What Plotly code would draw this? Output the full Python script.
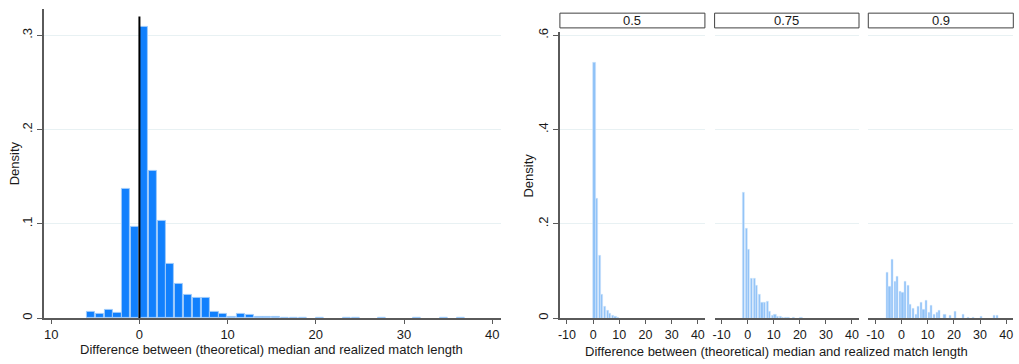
import plotly.graph_objects as go

W, H = 1019, 364

# ---------------- data ----------------
# Left histogram (all matches): left bin edge -> density
left_bins = [-6, -5, -4, -3, -2, -1, 0, 1, 2, 3, 4, 5, 6, 7, 8, 9, 10, 11, 12, 13, 14, 15,
             16, 17, 18, 20, 23, 24, 27, 31, 34, 36]
left_density = [0.007, 0.004, 0.009, 0.005, 0.137, 0.097, 0.309, 0.156, 0.103, 0.057, 0.036,
                0.025, 0.021, 0.021, 0.007, 0.0045, 0.0015, 0.004, 0.003, 0.001, 0.001, 0.0015,
                0.0006, 0.0005, 0.0005, 0.0005, 0.0003, 0.0003, 0.0003, 0.0003, 0.0003, 0.0003]
median_line_x = 0
median_line_top = 0.32

# Right panels by quantile
panel_labels = ["0.5", "0.75", "0.9"]

q50_bins = [0, 1, 2, 3, 4, 5, 6, 7, 8, 9]
q50_density = [0.543, 0.254, 0.133, 0.049, 0.024, 0.016, 0.010, 0.005, 0.003, 0.001]

q75_bins = [-2, -1, 0, 1, 2, 3, 4, 5, 6, 7, 8, 9, 10, 11, 12, 13, 14, 15, 17, 20]
q75_density = [0.266, 0.191, 0.146, 0.084, 0.083, 0.069, 0.049, 0.033, 0.032, 0.034, 0.013,
               0.005, 0.008, 0.003, 0.003, 0.002, 0.002, 0.001, 0.001, 0.001]

q90_bins = [-6, -5, -4, -3, -2, -1, 0, 1, 2, 3, 4, 5, 6, 7, 8, 9, 10, 11, 12, 13, 14,
            16, 18, 20, 23, 25, 27, 30, 35, 36]
q90_density = [0.097, 0.066, 0.124, 0.077, 0.089, 0.056, 0.055, 0.077, 0.068, 0.028, 0.021,
               0.007, 0.025, 0.032, 0.017, 0.037, 0.012, 0.026, 0.008, 0.012, 0.015,
               0.007, 0.006, 0.013, 0.008, 0.001, 0.001, 0.004, 0.005, 0.005]

left_xticks = [-10, 0, 10, 20, 30, 40]
left_xticktext = ["10", "0", "10", "20", "30", "40"]
right_xticks = [-10, 0, 10, 20, 30, 40]
right_xticktext = ["-10", "0", "10", "20", "30", "40"]
left_yticks = [0, 0.1, 0.2, 0.3]
left_yticktext = ["0", ".1", ".2", ".3"]
right_yticks = [0, 0.2, 0.4, 0.6]
right_yticktext = ["0", ".2", ".4", ".6"]

xtitle = "Difference between (theoretical) median and realized match length"
ytitle = "Density"

# ---------------- styling ----------------
FONT = "Liberation Sans, Arial, sans-serif"
TXT = "#1a1a1a"
AX = "#5a5a5a"
GRID = "#e8f1f3"
LEFT_FILL = "#1180fd"
LEFT_EDGE = "#9fcbfb"
RIGHT_FILL = "#8fc2f7"
RIGHT_EDGE = "#d3e7fc"


def px_x(p):
    return p / W


def px_y(p):
    return 1 - p / H


fig = go.Figure()

fig.add_trace(go.Bar(x=left_bins, y=left_density, width=0.92, offset=0.04,
                     marker=dict(color=LEFT_FILL, line=dict(color=LEFT_EDGE, width=1)),
                     xaxis="x", yaxis="y", showlegend=False))
fig.add_trace(go.Scatter(x=[median_line_x, median_line_x], y=[0, median_line_top], mode="lines",
                         line=dict(color="black", width=2), xaxis="x", yaxis="y",
                         showlegend=False))

panels = [(q50_bins, q50_density), (q75_bins, q75_density), (q90_bins, q90_density)]
for i, (b, d) in enumerate(panels):
    n = i + 2
    fig.add_trace(go.Bar(x=b, y=d, width=0.82, offset=0.09,
                         marker=dict(color=RIGHT_FILL, line=dict(color=RIGHT_EDGE, width=0.5)),
                         xaxis=f"x{n}", yaxis=f"y{n}", showlegend=False))

layout = dict(
    width=W, height=H,
    margin=dict(l=0, r=0, t=0, b=0),
    paper_bgcolor="white", plot_bgcolor="white",
    font=dict(family=FONT, color=TXT, size=13),
    bargap=0,
)

# left axes
layout["xaxis"] = dict(domain=[px_x(42), px_x(500)], range=[-10.83, 41.0], anchor="y",
                       tickvals=left_xticks, ticktext=left_xticktext, ticks="outside",
                       ticklen=4, tickcolor=AX, showline=True, linecolor=AX, linewidth=1.5,
                       showgrid=False, zeroline=False, tickfont=dict(size=13))
layout["yaxis"] = dict(domain=[px_y(319.3), px_y(5)], range=[0, 0.3281], anchor="x",
                       tickvals=left_yticks, ticktext=left_yticktext, ticks="outside",
                       ticklen=5, tickcolor=AX, showline=True, linecolor=AX, linewidth=1.5,
                       showgrid=True, gridcolor=GRID, gridwidth=1, zeroline=False,
                       tickangle=-90, tickfont=dict(size=13))

panel_px = [(559, 704.3), (714, 858.7), (868, 1013.3)]
for i, (a, b) in enumerate(panel_px):
    n = i + 2
    layout[f"xaxis{n}"] = dict(domain=[px_x(a), px_x(b)], range=[-12.7, 42.7], anchor=f"y{n}",
                               tickvals=right_xticks, ticktext=right_xticktext, ticks="outside",
                               ticklen=4, tickcolor=AX, showline=True, linecolor=AX,
                               linewidth=1.5, showgrid=False, zeroline=False,
                               tickfont=dict(size=12.5))
    ya = dict(domain=[px_y(319.3), px_y(28)], range=[0, 0.608], anchor=f"x{n}",
              tickvals=right_yticks, showgrid=True, gridcolor=GRID, gridwidth=1,
              zeroline=False)
    if i == 0:
        ya.update(ticktext=right_yticktext, ticks="outside", ticklen=5, tickcolor=AX,
                  showline=True, linecolor=AX, linewidth=1.5, tickangle=-90,
                  tickfont=dict(size=13))
    else:
        ya.update(showticklabels=False, ticks="", showline=False)
    layout[f"yaxis{n}"] = ya

shapes = []
annotations = []
for (a, b), lab in zip(panel_px, panel_labels):
    shapes.append(dict(type="rect", xref="paper", yref="paper",
                       x0=px_x(a), x1=px_x(b), y0=px_y(24.3), y1=px_y(9.3),
                       line=dict(color="#404040", width=1), fillcolor="white"))
    annotations.append(dict(xref="paper", yref="paper", x=px_x((a + b) / 2), y=px_y(16.8),
                            text=lab, showarrow=False, xanchor="center", yanchor="middle",
                            font=dict(size=13)))

annotations += [
    dict(xref="paper", yref="paper", x=px_x(270.5), y=px_y(351.5), text=xtitle,
         showarrow=False, xanchor="center", yanchor="middle", font=dict(size=13)),
    dict(xref="paper", yref="paper", x=px_x(776), y=px_y(353.5), text=xtitle,
         showarrow=False, xanchor="center", yanchor="middle", font=dict(size=13)),
    dict(xref="paper", yref="paper", x=px_x(12.5), y=px_y(161.5), text=ytitle,
         showarrow=False, textangle=-90, xanchor="center", yanchor="middle",
         font=dict(size=13)),
    dict(xref="paper", yref="paper", x=px_x(527.5), y=px_y(174), text=ytitle,
         showarrow=False, textangle=-90, xanchor="center", yanchor="middle",
         font=dict(size=13)),
]
layout["shapes"] = shapes
layout["annotations"] = annotations

fig.update_layout(**layout)
fig.write_html("out.html", config={"displayModeBar": False},
               post_script="document.body.style.margin='0';document.body.style.overflow='hidden';")
